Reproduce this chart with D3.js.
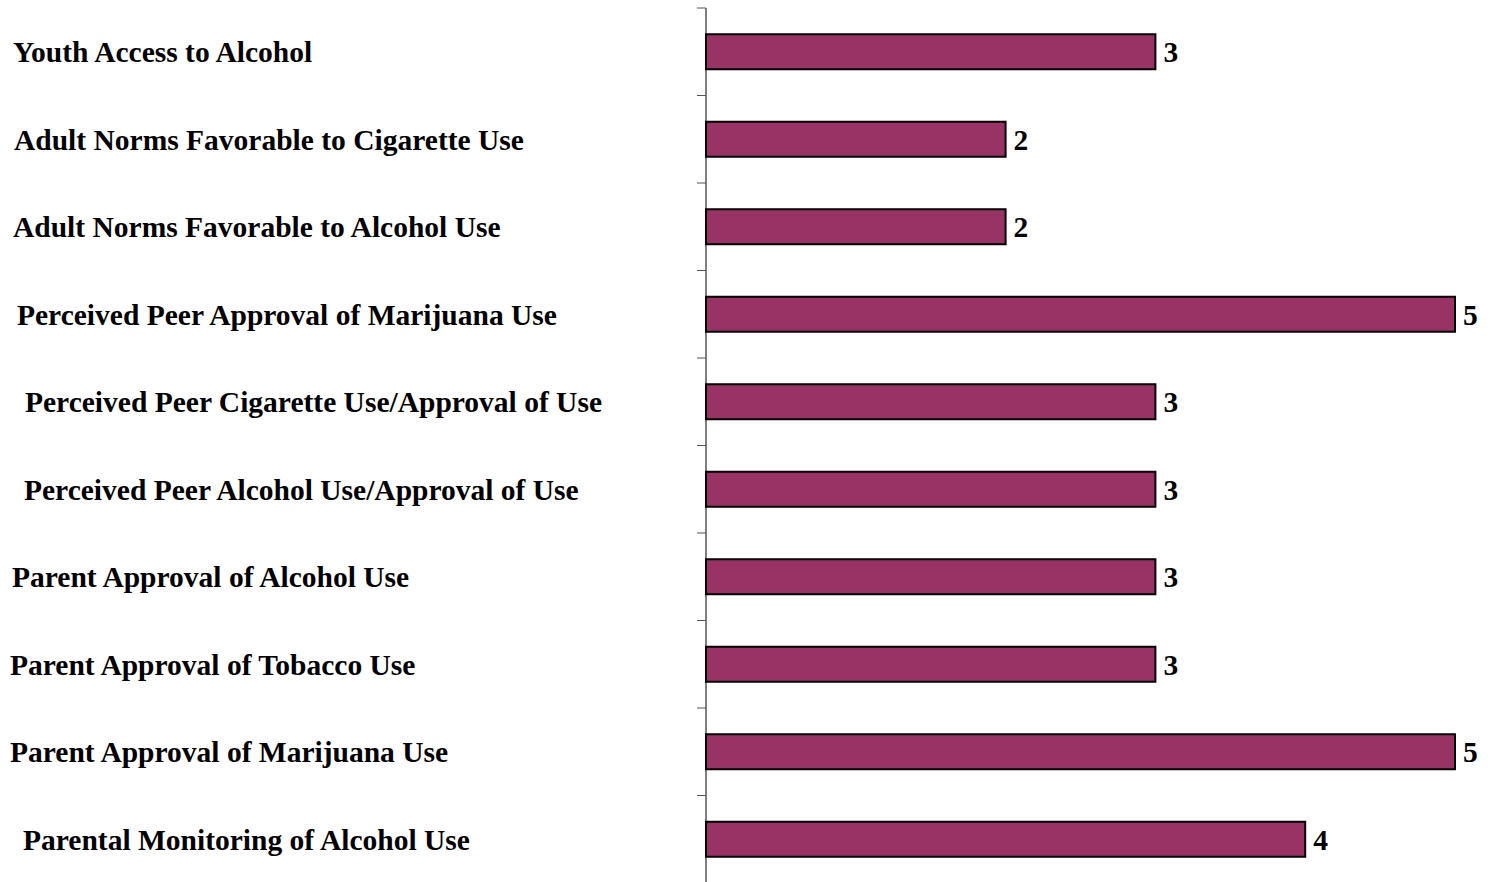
<!DOCTYPE html>
<html>
<head>
<meta charset="utf-8">
<script src="https://cdn.jsdelivr.net/npm/d3@7"></script>
<style>
  body { margin: 0; background: #fff; }
  text { font-family: "Liberation Serif", "Times New Roman", serif; font-weight: bold; }
</style>
</head>
<body>
<div id="chart"></div>
<script>
var categories = [
  "Youth Access to Alcohol",
  "Adult Norms Favorable to Cigarette Use",
  "Adult Norms Favorable to Alcohol Use",
  "Perceived Peer Approval of Marijuana Use",
  "Perceived Peer Cigarette Use/Approval of Use",
  "Perceived Peer Alcohol Use/Approval of Use",
  "Parent Approval of Alcohol Use",
  "Parent Approval of Tobacco Use",
  "Parent Approval of Marijuana Use",
  "Parental Monitoring of Alcohol Use"
];
var values = [3, 2, 2, 5, 3, 3, 3, 3, 5, 4];

// label left edges as drawn in the original (they're not aligned)
var labelX = [13, 14, 13, 17, 25, 24, 12, 10, 10, 23];

var config = { w: 1493, h: 882, axisX: 706, top: 8, bot: 883, fontSize: "29.5px" };

var svg = d3.select("#chart").append("svg")
  .attr("width", config.w)
  .attr("height", config.h);

var x = d3.scaleLinear()
  .domain([0, 5])
  .range([config.axisX, config.axisX + 749]);

var y = d3.scaleBand()
  .domain(d3.range(categories.length))
  .range([config.top, config.bot])
  .paddingInner(0.6)
  .paddingOuter(0.3);

var step = y.step();

// axis line + ticks between categories
svg.append("line")
  .attr("x1", config.axisX).attr("x2", config.axisX)
  .attr("y1", config.top).attr("y2", config.h)
  .style("stroke", "black")
  .style("stroke-width", 1);

svg.selectAll(".tick")
  .data(d3.range(categories.length))
  .enter().append("line")
  .attr("class", "tick")
  .attr("x1", config.axisX - 9).attr("x2", config.axisX)
  .attr("y1", function(i) { return config.top + i * step; })
  .attr("y2", function(i) { return config.top + i * step; })
  .style("stroke", "#555")
  .style("stroke-width", 1);

svg.selectAll(".bar")
  .data(values)
  .enter().append("rect")
  .attr("class", "bar")
  .attr("x", x(0))
  .attr("y", function(d, i) { return y(i); })
  .attr("width", function(d) { return x(d) - x(0); })
  .attr("height", y.bandwidth())
  .style("fill", "#993366")
  .style("stroke", "black")
  .style("stroke-width", 2);

svg.selectAll(".val")
  .data(values)
  .enter().append("text")
  .attr("class", "val")
  .attr("x", function(d) { return x(d) + 8; })
  .attr("y", function(d, i) { return y(i) + y.bandwidth() / 2; })
  .attr("dy", "0.35em")
  .style("font-size", config.fontSize)
  .text(function(d) { return d; });

svg.selectAll(".cat")
  .data(categories)
  .enter().append("text")
  .attr("class", "cat")
  .attr("x", function(d, i) { return labelX[i]; })
  .attr("y", function(d, i) { return y(i) + y.bandwidth() / 2; })
  .attr("dy", "0.35em")
  .style("font-size", config.fontSize)
  .text(function(d) { return d; });
</script>
</body>
</html>
